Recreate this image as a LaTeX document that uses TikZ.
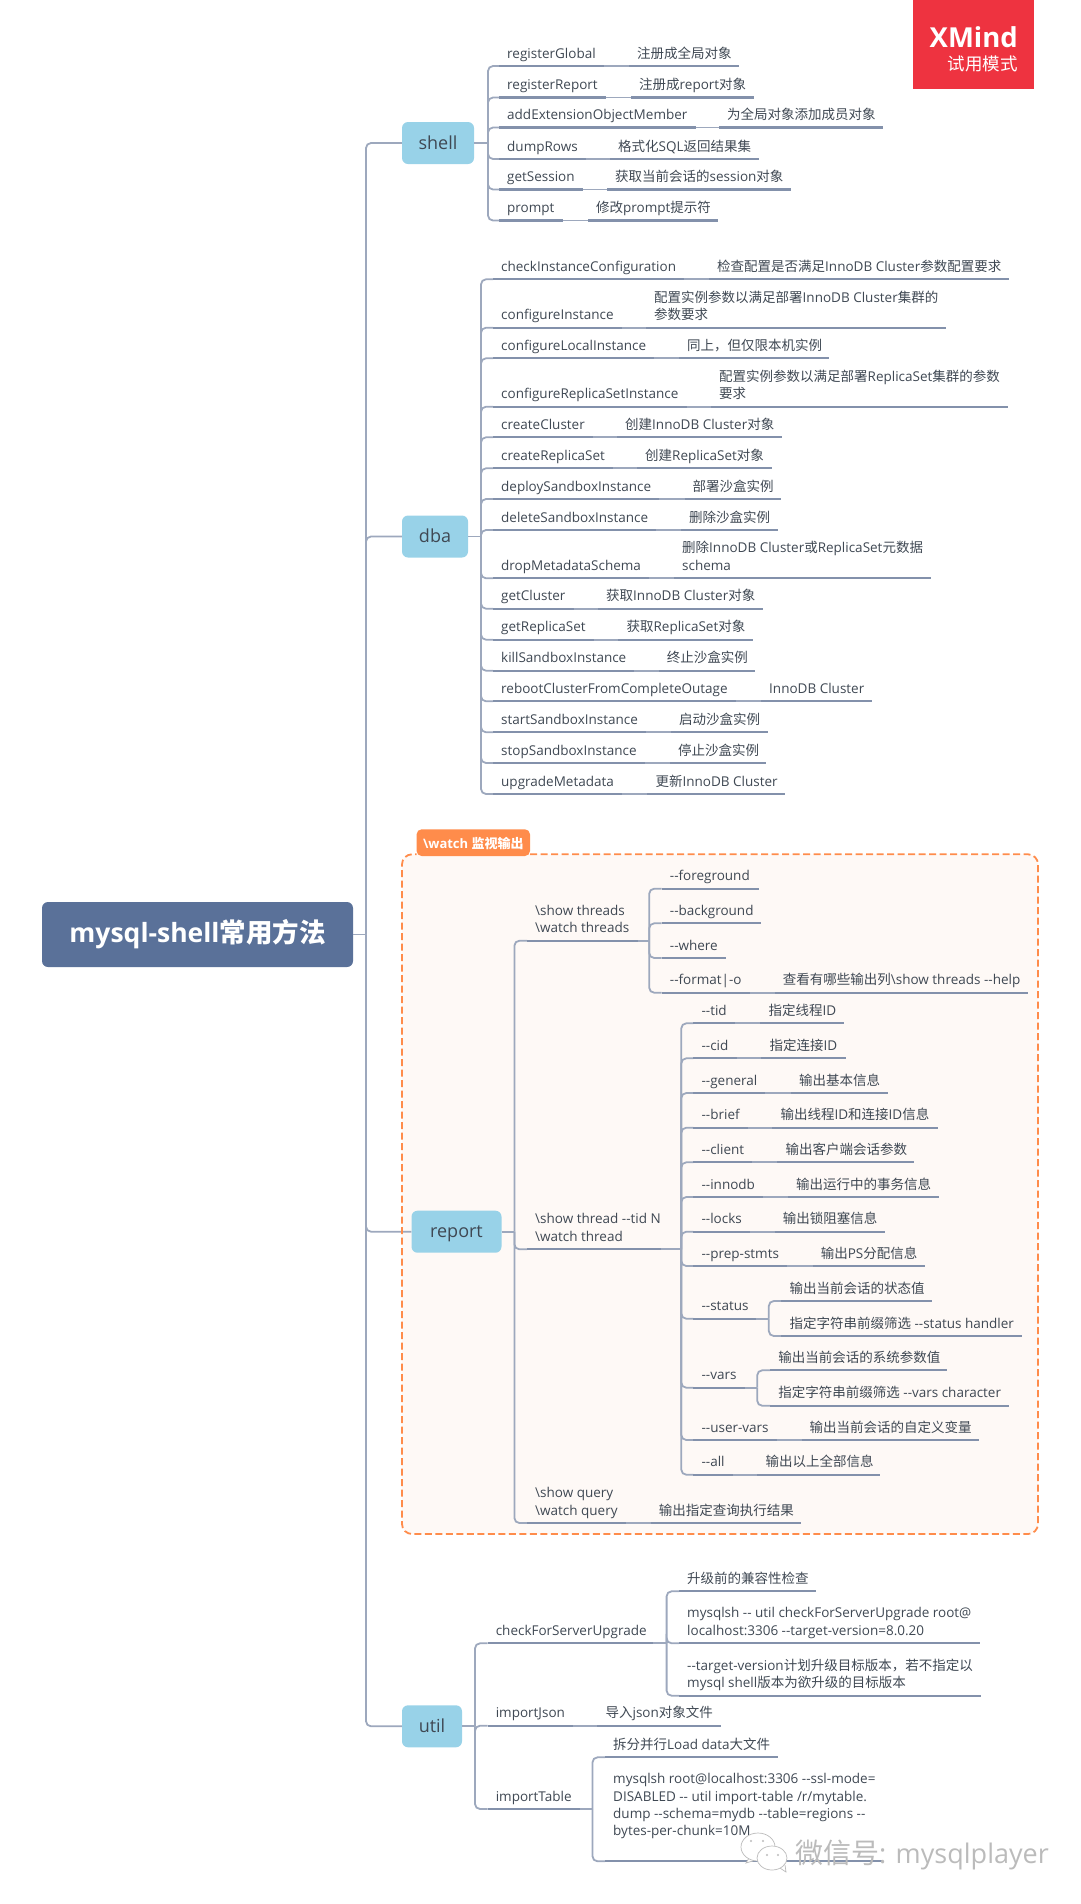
\documentclass[tikz,border=0pt]{standalone}
\usepackage{fontspec}
\newfontfamily\opensans{Open Sans}
\newfontfamily\cjk{Noto Sans CJK SC}
\newcommand{\zh}[1]{{\cjk #1}}
\usepackage{tikz}
\definecolor{twigcolor}{HTML}{9DA8BD}
\definecolor{undercolor}{HTML}{8391AB}
\definecolor{inkcolor}{HTML}{3F4853}
\definecolor{topiccolor}{HTML}{98D2E8}
\definecolor{rootcolor}{HTML}{5A7199}
\definecolor{watchcolor}{HTML}{FF8C4B}
\definecolor{watchfill}{HTML}{FEF9F6}
\definecolor{logocolor}{HTML}{EE3340}
\definecolor{markcolor}{HTML}{BBBBBB}
\tikzset{
  twig/.style={color=twigcolor, line width=1.8pt, rounded corners=5pt},
  under/.style={color=undercolor, line width=2.2pt},
  leaf/.style={anchor=base west, inner sep=0pt, align=left, text=inkcolor,
    font=\opensans\fontsize{13.5}{17.4}\selectfont},
  topic/.style={fill=topiccolor, rounded corners=6pt, inner sep=0pt, text=inkcolor,
    text height=12pt, text depth=0pt, font=\opensans\fontsize{18}{22}\selectfont}
}
% label and note on one line
\newcommand{\noterow}[8]{
  \coordinate (#2l) at (#3,#4);
  \coordinate (#2e) at (#8,#4);
  \node[leaf] (#2a) at (#3,#4-8) {#5};
  \node[leaf] (#2b) at (#6,#4-8) {#7};
  \draw[twig] (#1) |- ([xshift=-8pt]#2a.west |- #2l);
  \draw[under] ([xshift=-8pt]#2a.west |- #2l) -- ([xshift=8pt]#2a.east |- #2l);
  \draw[twig] ([xshift=8pt]#2a.east |- #2l) -- ([xshift=-8pt]#2b.west |- #2l);
  \draw[under] ([xshift=-8pt]#2b.west |- #2l) -- (#2e);
}
% label only
\newcommand{\plainrow}[6]{
  \coordinate (#2l) at (#3,#4);
  \coordinate (#2e) at (#6,#4);
  \node[leaf] (#2a) at (#3,#4-8) {#5};
  \draw[twig] (#1) |- ([xshift=-8pt]#2a.west |- #2l);
  \draw[under] ([xshift=-8pt]#2a.west |- #2l) -- (#2e);
}
\begin{document}
\begin{tikzpicture}[x=1pt,y=-1pt]
  \useasboundingbox (0,0) rectangle (1080,1904);
  % hubs
  \coordinate (roothub) at (366,934.5);
  \coordinate (shellhub) at (488,143);
  \coordinate (dbahub) at (481,536.5);
  \coordinate (reporthub) at (514.4,1231.7);
  \coordinate (threadshub) at (649.2,940.7);
  \coordinate (threadhub) at (681.3,1249.3);
  \coordinate (statushub) at (768.8,1318.7);
  \coordinate (varshub) at (757.2,1387.7);
  \coordinate (utilhub) at (475,1726.3);
  \coordinate (checkhub) at (666.6,1643.3);
  \coordinate (tablehub) at (592.5,1809);
  % logo
  \node (logo) at (973.7,44.7) [fill=logocolor, minimum width=121.4pt, minimum height=89.4pt, inner sep=0pt] {};
  \node (logoname) at (1018,37) [anchor=east, inner sep=0pt, text=white, font=\opensans\bfseries\fontsize{27.5}{30}\selectfont] {XMind};
  \node (logomode) at (1018,64) [anchor=east, inner sep=0pt, text=white, font=\cjk\fontsize{17.5}{20}\selectfont] {试用模式};
  % watch box
  \fill[color=watchfill, rounded corners=10pt] (402,854.3) rectangle (1038,1534);
  \fill[color=watchcolor, rounded corners=5pt] (416.6,856) -- (416.6,829.3) -- (530,829.3) -- (530,856) -- cycle;
  \node (watchtab) at (473.3,843) [inner sep=0pt, text=white, font=\opensans\bfseries\fontsize{13}{15}\selectfont] {\textbackslash watch \zh{监视输出}};
  % topics
  \node[fill=rootcolor, rounded corners=6pt, minimum width=311pt, minimum height=65pt, inner sep=0pt, text=white, font=\opensans\bfseries\fontsize{26.5}{30}\selectfont] (root) at (197.5,934.5) {mysql-shell\zh{常用方法}};
  \node[topic, minimum width=72pt, minimum height=42pt] (shell) at (438,143) {shell};
  \node[topic, minimum width=66pt, minimum height=42pt] (dba) at (435,536.5) {dba};
  \node[topic, minimum width=90pt, minimum height=42pt] (report) at (456.5,1231.7) {report};
  \node[topic, minimum width=60pt, minimum height=42pt] (util) at (432,1726.3) {util};
  \draw[twig] (root) -- (roothub);
  \foreach \t/\h in {shell/shellhub,dba/dbahub,report/reporthub,util/utilhub}
  {
  \draw[twig] (roothub) |- (\t);
  \draw[twig] (\t) -- (\h);
  }
  \draw[color=watchcolor, line width=1.8pt, dash pattern=on 7pt off 3.5pt, rounded corners=10pt] (530,854.3) -- (1038,854.3) -- (1038,1534) -- (402,1534) -- (402,854.3) -- (416.6,854.3);
  % shell
  \foreach \ly/\lab/\nx/\note/\xe [count=\i] in {
    66/registerGlobal/637/\zh{注册成全局对象}/739,
    97.5/registerReport/639/\zh{注册成}report\zh{对象}/754,
    127.5/addExtensionObjectMember/727/\zh{为全局对象添加成员对象}/883,
    159/dumpRows/618/\zh{格式化}SQL\zh{返回结果集}/759,
    189.5/getSession/615/\zh{获取当前会话的}session\zh{对象}/791,
    220.5/prompt/596/\zh{修改}prompt\zh{提示符}/718}
  {
  \noterow{shellhub}{s\i}{507}{\ly}{\lab}{\nx}{\note}{\xe}
  }
  % dba
  \foreach \ly/\lab/\nx/\note/\xe [count=\i] in {
    279.3/checkInstanceConfiguration/717/\zh{检查配置是否满足}InnoDB Cluster\zh{参数配置要求}/1009,
    327.7/configureInstance/654/\zh{配置实例参数以满足部署}InnoDB Cluster\zh{集群的}\\\zh{参数要求}/946,
    358.3/configureLocalInstance/687/\zh{同上，但仅限本机实例}/829,
    406.7/configureReplicaSetInstance/719/\zh{配置实例参数以满足部署}ReplicaSet\zh{集群的参数}\\\zh{要求}/1007.5,
    437.3/createCluster/625/\zh{创建}InnoDB Cluster\zh{对象}/782.4,
    468.3/createReplicaSet/645/\zh{创建}ReplicaSet\zh{对象}/772,
    499/deploySandboxInstance/692.5/\zh{部署沙盒实例}/781,
    530/deleteSandboxInstance/689/\zh{删除沙盒实例}/778,
    578.3/dropMetadataSchema/682/\zh{删除}InnoDB Cluster\zh{或}ReplicaSet\zh{元数据}\\schema/930.5,
    608.7/getCluster/606/\zh{获取}InnoDB Cluster\zh{对象}/763,
    639.7/getReplicaSet/626.4/\zh{获取}ReplicaSet\zh{对象}/753,
    670.7/killSandboxInstance/666.6/\zh{终止沙盒实例}/755,
    701.3/rebootClusterFromCompleteOutage/769/InnoDB Cluster/872,
    732.3/startSandboxInstance/679/\zh{启动沙盒实例}/767.5,
    763/stopSandboxInstance/678/\zh{停止沙盒实例}/765.7,
    794/upgradeMetadata/655.4/\zh{更新}InnoDB Cluster/785}
  {
  \noterow{dbahub}{d\i}{501}{\ly}{\lab}{\nx}{\note}{\xe}
  }
  % report
  \plainrow{reporthub}{r1}{535}{940.7}{\textbackslash show threads\\\textbackslash watch threads}{638}
  \draw[twig] (r1e) -- (threadshub);
  \plainrow{reporthub}{r2}{535}{1249.3}{\textbackslash show thread --tid N\\\textbackslash watch thread}{661}
  \draw[twig] (r2e) -- (threadhub);
  \noterow{reporthub}{r3}{535}{1523}{\textbackslash show query\\\textbackslash watch query}{658.6}{\zh{输出指定查询执行结果}}{800.5}
  \foreach \ly/\lab/\xe [count=\i] in {
    888.7/--foreground/758.6,
    923.3/--background/761,
    958/--where/725.5}
  {
  \plainrow{threadshub}{f\i}{669.7}{\ly}{\lab}{\xe}
  }
  \noterow{threadshub}{f4}{669.7}{992.7}{--format|-o}{782.7}{\zh{查看有哪些输出列}\textbackslash show threads --help}{1028}
  \foreach \ly/\lab/\nx/\note/\xe [count=\i] in {
    1023.3/--tid/768.4/\zh{指定线程}ID/844.3,
    1058.3/--cid/769.3/\zh{指定连接}ID/845.6,
    1093/--general/799/\zh{输出基本信息}/887.6,
    1127.7/--brief/780.4/\zh{输出线程}ID\zh{和连接}ID\zh{信息}/937.6,
    1162.3/--client/785.4/\zh{输出客户端会话参数}/914.4,
    1197/--innodb/796/\zh{输出运行中的事务信息}/938.5,
    1231.7/--locks/782.7/\zh{输出锁阻塞信息}/884.5,
    1266/--prep-stmts/820.6/\zh{输出}PS\zh{分配信息}/925,
    1440/--user-vars/809.5/\zh{输出当前会话的自定义变量}/979,
    1474.7/--all/765.3/\zh{输出以上全部信息}/880.4}
  {
  \noterow{threadhub}{t\i}{701.4}{\ly}{\lab}{\nx}{\note}{\xe}
  }
  \plainrow{threadhub}{t11}{701.4}{1318.7}{--status}{756}
  \draw[twig] (t11e) -- (statushub);
  \plainrow{threadhub}{t12}{701.4}{1387.7}{--vars}{745}
  \draw[twig] (t12e) -- (varshub);
  \plainrow{statushub}{u1}{789.4}{1301}{\zh{输出当前会话的状态值}}{931.8}
  \plainrow{statushub}{u2}{789.4}{1336}{\zh{指定字符串前缀筛选} --status handler}{1021.5}
  \plainrow{varshub}{v1}{778.2}{1370.3}{\zh{输出当前会话的系统参数值}}{947.4}
  \plainrow{varshub}{v2}{778.2}{1405.7}{\zh{指定字符串前缀筛选} --vars character}{1008.6}
  % util
  \plainrow{utilhub}{c1}{495.6}{1643.3}{checkForServerUpgrade}{653}
  \draw[twig] (c1e) -- (checkhub);
  \noterow{utilhub}{c2}{495.6}{1725.7}{importJson}{605.4}{\zh{导入}json\zh{对象文件}}{720.6}
  \plainrow{utilhub}{c3}{495.6}{1809}{importTable}{580}
  \draw[twig] (c3e) -- (tablehub);
  \plainrow{checkhub}{k1}{687}{1591.3}{\zh{升级前的兼容性检查}}{816}
  \plainrow{checkhub}{k2}{687}{1643.3}{mysqlsh -- util checkForServerUpgrade root@\\localhost:3306 --target-version=8.0.20}{980.4}
  \plainrow{checkhub}{k3}{687}{1695.7}{--target-version\zh{计划升级目标版本，若不指定以}\\mysql shell\zh{版本为欲升级的目标版本}}{981}
  \plainrow{tablehub}{i1}{613}{1757.3}{\zh{拆分并行}Load data\zh{大文件}}{777.8}
  \plainrow{tablehub}{i2}{613}{1861.3}{mysqlsh root@localhost:3306 --ssl-mode=\\DISABLED -- util import-table /r/mytable.\\dump --schema=mydb --table=regions --\\bytes-per-chunk=10M\\\mbox{}}{883}
  % watermark
  \filldraw[draw=markcolor, fill=white, line width=0.7pt] (749,1858) -- (746,1863) -- (756,1860);
  \filldraw[draw=markcolor, fill=white, line width=0.7pt] (758,1847) ellipse [x radius=17, y radius=14];
  \filldraw[draw=markcolor, fill=white, line width=0.7pt] (780,1868) -- (786,1872) -- (785,1865);
  \filldraw[draw=markcolor, fill=white, line width=0.7pt] (772,1858) ellipse [x radius=15, y radius=12];
  \foreach \x/\y in {751/1841,763/1841,767/1855,778/1855}
  {
  \fill[color=markcolor] (\x,\y) circle (1.2);
  }
  \node (mark) at (795,1863) [anchor=base west, inner sep=0pt, text=markcolor, font=\opensans\fontsize{27}{30}\selectfont] {{\cjk\fontsize{28}{30}\selectfont 微信号}: mysqlplayer};
\end{tikzpicture}
\end{document}
